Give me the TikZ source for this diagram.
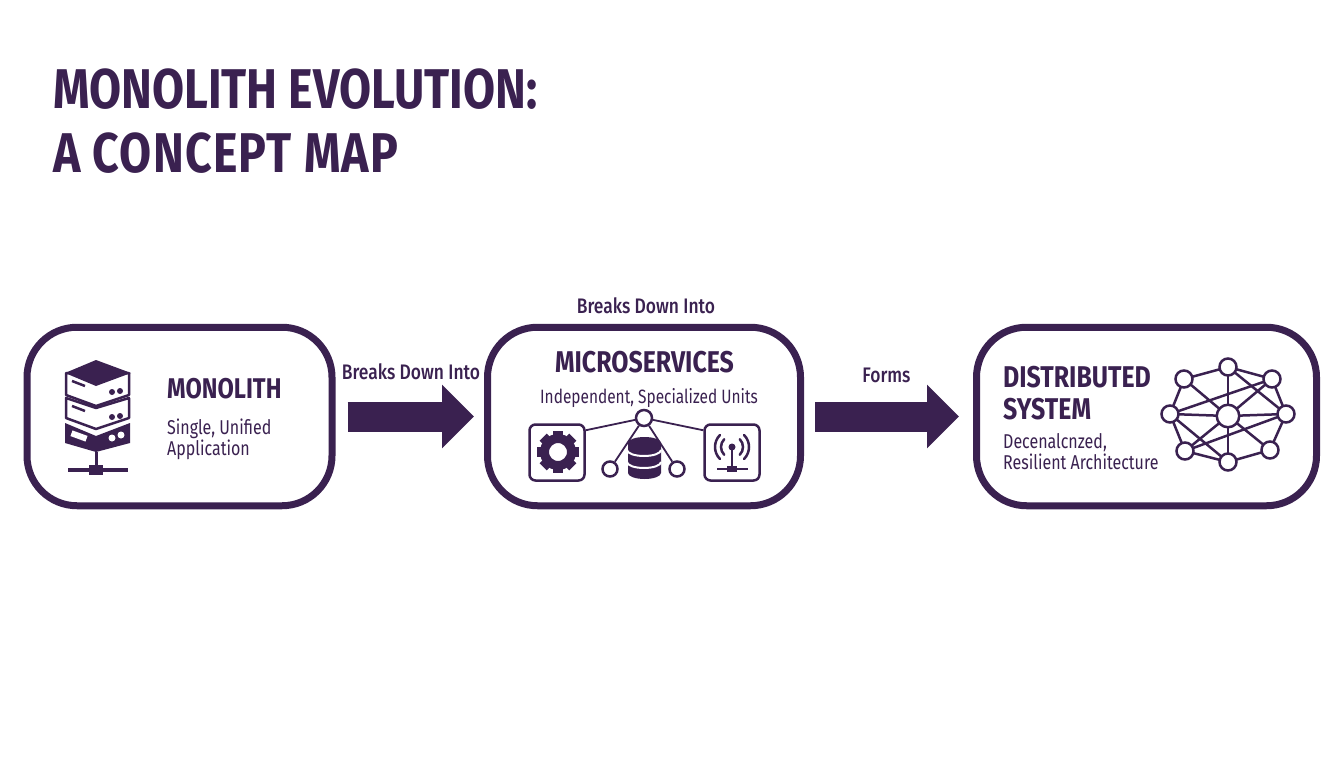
\documentclass[tikz,border=0pt]{standalone}
\usepackage{fontspec}
\usepackage{tikz}
\usetikzlibrary{calc,arrows.meta}
\setmainfont{Fira Sans}
\newfontfamily\headfont[FakeStretch=0.83]{Fira Sans}
\newfontfamily\bodyfont[FakeStretch=0.80]{Fira Sans}
\newfontfamily\linkfont[FakeStretch=0.83]{Fira Sans Medium}
\definecolor{plum}{HTML}{3A2150}
\tikzset{
    card/.style={draw=plum,line width=7pt,rounded corners=50pt,minimum height=178.5pt,fill=white},
    flow/.style={draw=plum,line width=30pt,-{Triangle[length=32pt,width=62pt]}},
    linklabel/.style={text=plum,inner sep=0pt,anchor=base,font=\linkfont\fontsize{21}{22}\selectfont},
    headtext/.style={text=plum,inner sep=0pt,anchor=base west,align=left,font=\headfont\fontsize{30}{32}\selectfont\bfseries},
    subtext/.style={text=plum,inner sep=0pt,anchor=base west,align=left,font=\bodyfont\fontsize{20}{21}\selectfont},
    dot/.style={circle,draw=plum,fill=white,line width=2.5pt,inner sep=0pt,minimum size=17pt},
    tile/.style={draw=plum,line width=2.5pt,rounded corners=6pt,minimum width=55pt,minimum height=56pt},
}
\begin{document}
\begin{tikzpicture}[x=1pt,y=-1pt]
        \useasboundingbox (0,0) rectangle (1344,768);
        \node[text=plum,inner sep=0pt,anchor=base west,align=left,
            font=\headfont\fontsize{56}{64}\selectfont\bfseries] (title) at (53,172)
            {MONOLITH EVOLUTION:\\\addfontfeature{LetterSpace=2.2}A CONCEPT MAP};
        % the three cards
        \node[card,minimum width=305pt] (monolith) at (179.5,416.5) {};
        \node[card,minimum width=313pt] (micro) at (644,416.5) {};
        \node[card,minimum width=340pt] (distributed) at (1146.5,416.5) {};
        % arrows between cards
        \draw[flow,shorten <=12pt,shorten >=10pt] (monolith.east) -- (micro.west);
        \draw[flow,shorten <=11pt,shorten >=14pt] (micro.east) -- (distributed.west);
        \node[linklabel] (breaksA) at (411,379) {Breaks Down Into};
        \node[linklabel] (breaksB) at (646,313) {Breaks Down Into};
        \node[linklabel] (forms) at (886.5,382) {Forms};
        % monolith text
        \node[headtext,font=\headfont\fontsize{28.5}{32}\selectfont\bfseries] (monoHead) at (167,398) {MONOLITH};
        \node[subtext] (monoSub) at (167,455) {Single, Unified\\Application};
        % server stack
        \fill[plum] (65,423) -- (96,436) -- (130,423) -- (130,443) -- (96,452) -- (65,443) -- cycle;
        \draw[plum,line width=2.5pt,fill=white,line join=round] (66,398) -- (66,418) -- (96,429) -- (129,418) -- (129,398) -- (96,408) -- cycle;
        \draw[plum,line width=2.5pt,fill=white,line join=round] (66,373) -- (66,395) -- (96,406) -- (129,395) -- (129,373) -- cycle;
        \fill[plum] (96,360) -- (131,373) -- (96,386) -- (65,373) -- cycle;
        \foreach \y in {0,25} {
            \draw[plum,line width=2.5pt] (72,381+\y) -- (85,386+\y);
            \fill[plum] (112,\y+392) circle (3pt) (120,\y+391) circle (3pt);
        }
        \fill[white,rotate around={-20:(79,436)}] (71,433) rectangle (87,439);
        \fill[white] (112,438) circle (3.5pt) (121,435) circle (3.5pt);
        \draw[plum,line width=3pt] (96,452) -- (96,470);
        \draw[plum,line width=3.5pt] (68,470) -- (128,470);
        \fill[plum] (89,465) rectangle (103,475);
        % microservices text
        \node[headtext,anchor=base] (microHead) at (644.5,372) {MICROSERVICES};
        \node[subtext,anchor=base,font=\bodyfont\fontsize{19.3}{21}\selectfont] (microSub) at (649,403) {Independent, Specialized Units};
        % small graph with the tiles
        \node[tile] (gearTile) at (557,452.5) {};
        \node[tile] (radioTile) at (732,452.5) {};
        \node[dot,minimum size=16pt] (hub) at (644,418) {};
        \node[dot,minimum size=15pt] (dbLeft) at (610,469) {};
        \node[dot,minimum size=15pt] (dbRight) at (677,469) {};
        \draw[plum,line width=1.8pt] (hub) -- ($(gearTile.north east)+(0,7)$);
        \draw[plum,line width=1.8pt] (hub) -- ($(radioTile.north west)+(0,7)$);
        \draw[plum,line width=1.8pt] (hub) -- (dbLeft);
        \draw[plum,line width=1.8pt] (hub) -- (dbRight);
        % database
        \fill[plum] (628,443) arc (180:360:16.5 and 6) -- (661,473) arc (0:180:16.5 and 6) -- cycle;
        \foreach \y in {450,462}
        \draw[white,line width=2pt] (627,\y) arc (180:0:17 and 6);
        % gear
        \draw[plum,line width=9pt] (558,452) circle (13.5pt);
        \foreach \a in {0,45,...,315}
        \fill[plum,shift={(558,452)},rotate=\a] (-5,-21) rectangle (5,-14);
        % antenna
        \fill[plum] (732,447) circle (3.5pt);
        \draw[plum,line width=2.5pt] (732,447) -- (732,469);
        \draw[plum,line width=2pt] (717,469) -- (748,469);
        \fill[plum] (727,466) rectangle (737,472);
        \foreach \r in {11,17} {
            \draw[plum,line width=2.5pt,line cap=round] ($(732,447)+(135:\r)$) arc (135:225:\r);
            \draw[plum,line width=2.5pt,line cap=round] ($(732,447)+(45:\r)$) arc (45:-45:\r);
        }
        % distributed text
        \node[headtext] (distHead) at (1003,387) {DISTRIBUTED};
        \node[headtext] (distHeadB) at (1003,419) {SYSTEM};
        \node[subtext] (distSub) at (1003,469) {Decenalcnzed,\\Resilient Architecture};
        % network
        \foreach \name/\x/\y in {top/1228/367,nw/1184/379,ne/1272/379,west/1170/414,east/1286/414,sw/1185/451,se/1270/450,bot/1228/462}
        \coordinate (\name) at (\x,\y);
        \coordinate (core) at (1228,416);
        \foreach \a/\b in {top/nw,top/ne,ne/east,east/se,se/bot,bot/sw,sw/west,west/nw,core/top,core/nw,core/ne,core/west,core/east,core/sw,core/se,core/bot,west/ne,sw/east,west/bot,top/east}
        \draw[plum,line width=2.5pt] (\a) -- (\b);
        \foreach \name in {top,nw,ne,west,east,sw,se,bot}
        \node[dot] (n\name) at (\name) {};
        \node[dot,minimum size=22.5pt] (ncore) at (core) {};
    \end{tikzpicture}
\end{document}
